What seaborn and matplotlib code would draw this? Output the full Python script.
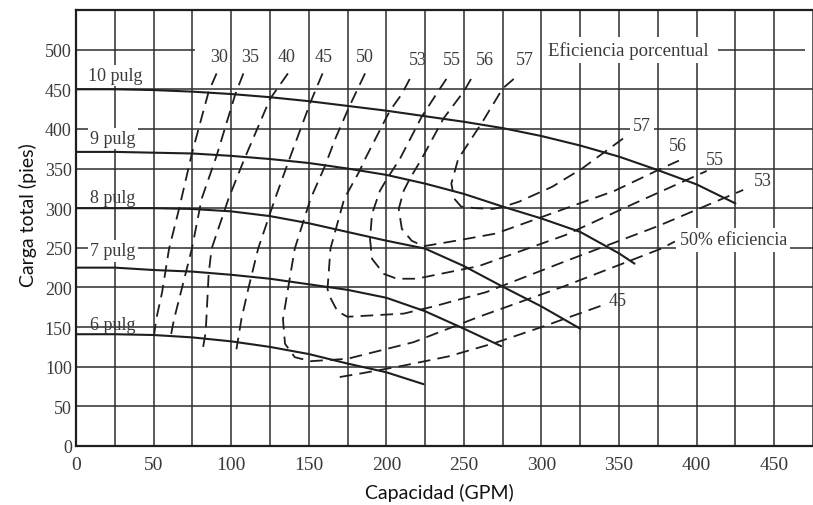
import matplotlib
matplotlib.use("Agg")
import matplotlib.pyplot as plt
import pandas as pd
import seaborn as sns

# curvas carga-capacidad, una por diametro de impulsor
q_10 = [0, 25, 50, 75, 100, 125, 150, 175, 200, 225, 250, 275, 300, 325, 350, 375, 400, 425]
h_10 = [450, 450, 449, 447, 444, 440, 435, 429, 423, 416, 409, 401, 391, 379, 365, 348, 330, 306]
q_9 = [0, 25, 50, 75, 100, 125, 150, 175, 200, 225, 250, 275, 300, 325, 350, 360]
h_9 = [371, 371, 370, 369, 366, 362, 357, 350, 342, 331, 318, 302, 287, 270, 243, 230]
q_8 = [0, 25, 50, 75, 100, 125, 150, 175, 200, 225, 250, 275, 300, 325]
h_8 = [300, 300, 300, 299, 296, 290, 281, 270, 259, 249, 227, 201, 176, 148]
q_7 = [0, 25, 50, 75, 100, 125, 150, 175, 200, 225, 250, 274]
h_7 = [225, 225, 222, 220, 216, 211, 204, 197, 187, 170, 148, 126]
q_6 = [0, 25, 50, 75, 100, 125, 150, 175, 200, 224]
h_6 = [141, 141, 140, 137, 132, 125, 116, 104, 93, 78]

impeller_names = ["10 pulg", "9 pulg", "8 pulg", "7 pulg", "6 pulg"]
impeller_q = [q_10, q_9, q_8, q_7, q_6]
impeller_h = [h_10, h_9, h_8, h_7, h_6]

# curvas de eficiencia (trazos discontinuos)
e30_q = [90.6, 85.5, 74.7, 66.4, 60.0, 55.5, 51.7, 50.4]
e30_h = [470, 447, 369, 299, 249, 194, 160, 141]
e35_q = [107.9, 102.7, 90.6, 81.0, 74.7, 67.6, 63.2, 61.3]
e35_h = [470, 444, 366, 312, 249, 194, 160, 141]
e40_q = [136.6, 125.1, 108.5, 98.3, 87.4, 85.5, 83.6, 81.7]
e40_h = [470, 438, 362, 312, 249, 217, 144, 122]
e45_q = [158.9, 151.2, 136.6, 128.3, 117.4, 111.0, 106.6, 103.4]
e45_h = [470, 434, 357, 312, 249, 198, 160, 122]
e45r_q = [170, 185, 210, 240, 270, 300, 340]
e45r_h = [87, 92, 101, 113, 130, 150, 178]
e50_q = [186.3, 176.1, 167.2, 160.2, 151.2, 141.0, 136.6, 133.4, 134.7, 141.0, 151.2,
         174.9, 217.6, 259.7, 315.3, 377.2, 386]
e50_h = [470, 428, 388, 352, 312, 249, 198, 160, 129, 112, 107, 110, 131, 163, 202, 249, 258]
e53_q = [215.1, 210.0, 202.3, 186.3, 182.5, 172.9, 164.0, 162.1, 163.4, 168.5, 174.9,
         211.2, 230.4, 264.2, 315.3, 374.6, 430]
e53_h = [463, 444, 423, 362, 346, 312, 249, 198, 189, 170, 163, 167, 176, 194, 233, 277, 323]
e55_q = [238.7, 233.6, 222.7, 208.7, 200.4, 195.9, 190.8, 189.5, 190.8, 198.5, 206.8,
         219.5, 259.7, 315.3, 359.9, 406.5]
e55_h = [463, 448, 415, 362, 337, 322, 293, 261, 236, 217, 211, 211, 227, 266, 306, 347]
e56_q = [254.6, 250.2, 236.8, 222.7, 215.1, 211.2, 208.0, 210.0, 216.3, 224.0, 245.1,
         270.6, 308.9, 347.2, 377.2, 388.6]
e56_h = [463, 448, 413, 362, 337, 322, 299, 274, 259, 252, 259, 268, 295, 322, 350, 360]
e57_q = [282.1, 275.0, 262.3, 246.3, 241.9, 243.8, 248.2, 257.8, 268.7, 275.7, 285.3,
         306.9, 326.1, 340.8, 354.8]
e57_h = [463, 451, 410, 362, 331, 312, 302, 300, 299, 302, 308, 327, 350, 371, 391]

eff_q = [e30_q, e35_q, e40_q, e45_q, e45r_q, e50_q, e53_q, e55_q, e56_q, e57_q]
eff_h = [e30_h, e35_h, e40_h, e45_h, e45r_h, e50_h, e53_h, e55_h, e56_h, e57_h]

top_labels = ["30", "35", "40", "45", "50", "53", "55", "56", "57"]
top_label_q = [91.9, 112.3, 136.0, 159.5, 186.3, 220.5, 242.5, 263.6, 289.0]
top_label_h = [491, 491, 491, 491, 491, 487, 487, 487, 487]

right_labels = ["57", "56", "55", "53", "50% eficiencia", "45"]
right_label_q = [359, 382, 406, 437, 389, 343]
right_label_h = [404, 379, 362, 335, 260, 183]

pulg_label_q = [7.7, 9, 9, 9, 9]
pulg_label_h = [467, 388, 314, 246, 153]

x_ticks = list(range(0, 451, 50))
y_ticks = list(range(0, 501, 50))

heads = pd.concat([pd.DataFrame({"q": q, "h": h, "curva": n})
                   for n, q, h in zip(impeller_names, impeller_q, impeller_h)])
effs = pd.concat([pd.DataFrame({"q": q, "h": h, "curva": i})
                  for i, (q, h) in enumerate(zip(eff_q, eff_h))])

sns.set_style("white")
plt.rcParams["font.family"] = ["Liberation Serif", "DejaVu Serif"]

ink = "#1e1e1e"
txt = "#3a3a3a"

fig = plt.figure(figsize=(8.13, 5.06), dpi=100)
ax = fig.add_axes([76 / 813, 59 / 506, 737 / 813, 436 / 506])

sns.lineplot(data=heads, x="q", y="h", units="curva", estimator=None, sort=False,
             color=ink, lw=1.5, ax=ax, legend=False, zorder=3)
sns.lineplot(data=effs, x="q", y="h", units="curva", estimator=None, sort=False,
             color=ink, lw=1.3, ls=(0, (7, 4)), ax=ax, legend=False, zorder=3)

ax.set_xlim(0, 470)
ax.set_ylim(0, 550)
ax.set_xticks(x_ticks)
ax.set_xticks([t + 25 for t in x_ticks], minor=True)
ax.set_yticks(y_ticks)
ax.grid(True, which="both", axis="x", color="#2e2e2e", lw=1.1, zorder=1)
ax.grid(True, which="major", axis="y", color="#2e2e2e", lw=1.1, zorder=1)
for t, gl in zip(y_ticks, ax.get_ygridlines()):
    if t == 500:
        gl.set_visible(False)
# la linea de 500 queda cortada por los rotulos de eficiencia
ax.hlines([500, 500], [0, 414], [77, 470], color="#2e2e2e", lw=1.1, zorder=1)
ax.set_axisbelow(True)

ax.tick_params(axis="both", which="both", length=0, colors=txt)
ax.tick_params(axis="x", labelsize=14, pad=7)
ax.tick_params(axis="y", labelsize=13, pad=3)
for s in ["left", "bottom", "top"]:
    ax.spines[s].set_color(ink)
    ax.spines[s].set_linewidth(1.6)
ax.spines["right"].set_visible(False)
ax.set_xlabel("")
ax.set_ylabel("")

box = dict(facecolor="white", edgecolor="none", pad=1.5)
for i, (n, q, h) in enumerate(zip(impeller_names, pulg_label_q, pulg_label_h)):
    ax.text(q, h, n, ha="left", va="center", fontsize=13, color=txt,
            bbox=box if i in (0, 1, 3) else None, zorder=4)

for lab, q, h in zip(top_labels, top_label_q, top_label_h):
    ax.text(q, h, lab, ha="center", va="center", fontsize=13, color=txt, zorder=4)
ax.text(304, 499, "Eficiencia porcentual", ha="left", va="center", fontsize=13.5,
        color=txt, bbox=dict(facecolor="white", edgecolor="none", pad=3), zorder=4)

for lab, q, h in zip(right_labels, right_label_q, right_label_h):
    ax.text(q, h, lab, ha="left", va="center", fontsize=13, color=txt,
            bbox=dict(facecolor="white", edgecolor="none", pad=2.5) if lab in ("57", "50% eficiencia") else None,
            zorder=4)

fig.text(439 / 813, 1 - 493 / 506, "Capacidad (GPM)", ha="center", va="center",
         fontsize=14, family="Lato", color="#111")
fig.text(28 / 813, 1 - 215 / 506, "Carga total (pies)", ha="center", va="center",
         rotation=90, fontsize=14, family="Lato", color="#111")

fig.savefig("out.png", dpi=100, facecolor="white")
